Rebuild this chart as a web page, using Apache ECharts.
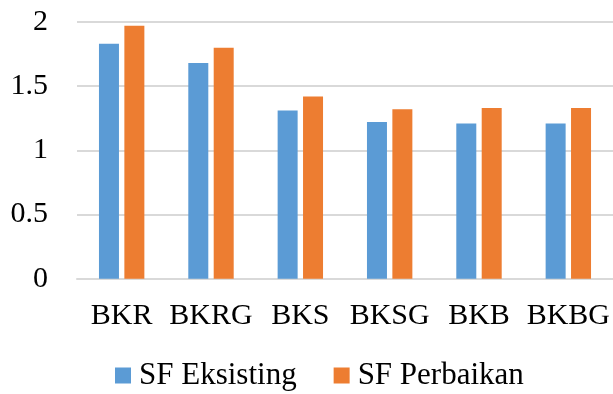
<!DOCTYPE html>
<html>
<head>
<meta charset="utf-8">
<script src="https://cdn.jsdelivr.net/npm/echarts@6/dist/echarts.min.js"></script>
<style>
  html, body { margin: 0; padding: 0; background: #ffffff; }
  #chart { width: 613px; height: 394px; }
</style>
</head>
<body>
<div id="chart"></div>
<script>
// Safety factor per slope type: existing vs. improved
const categories = ['BKR', 'BKRG', 'BKS', 'BKSG', 'BKB', 'BKBG'];
const sfEksisting = [1.83, 1.68, 1.31, 1.22, 1.21, 1.21];
const sfPerbaikan = [1.97, 1.80, 1.42, 1.32, 1.33, 1.33];
const seriesNames = ['SF Eksisting', 'SF Perbaikan'];

const FONT = '"Liberation Serif", "Times New Roman", serif';

const chart = echarts.init(document.getElementById('chart'), null, { renderer: 'canvas' });
chart.setOption({
  animation: false,
  backgroundColor: '#ffffff',
  grid: { left: 77, top: 22, width: 538, height: 256.7, containLabel: false },
  legend: {
    left: 110,
    top: 355,
    itemWidth: 16,
    itemHeight: 16,
    itemGap: 37,
    icon: 'rect',
    textStyle: { fontFamily: FONT, fontSize: 31, color: '#000000', padding: [0, 0, 0, 3] },
    data: seriesNames
  },
  xAxis: {
    type: 'category',
    data: categories,
    axisTick: { show: false },
    axisLine: { lineStyle: { color: '#d9d9d9', width: 2 } },
    axisLabel: {
      interval: 0,
      hideOverlap: false,
      fontFamily: FONT,
      fontSize: 30,
      color: '#000000',
      margin: 22
    }
  },
  yAxis: {
    type: 'value',
    min: 0,
    max: 2,
    interval: 0.5,
    axisLine: { show: false },
    axisTick: { show: false },
    splitLine: { lineStyle: { color: '#d9d9d9', width: 2 } },
    axisLabel: { fontFamily: FONT, fontSize: 30, color: '#000000', margin: 29 }
  },
  series: [
    {
      name: seriesNames[0],
      type: 'bar',
      data: sfEksisting,
      barWidth: 20,
      barGap: '27%',
      itemStyle: { color: '#5B9BD5' }
    },
    {
      name: seriesNames[1],
      type: 'bar',
      data: sfPerbaikan,
      barWidth: 20,
      barGap: '27%',
      itemStyle: { color: '#ED7D31' }
    }
  ]
});
</script>
</body>
</html>
